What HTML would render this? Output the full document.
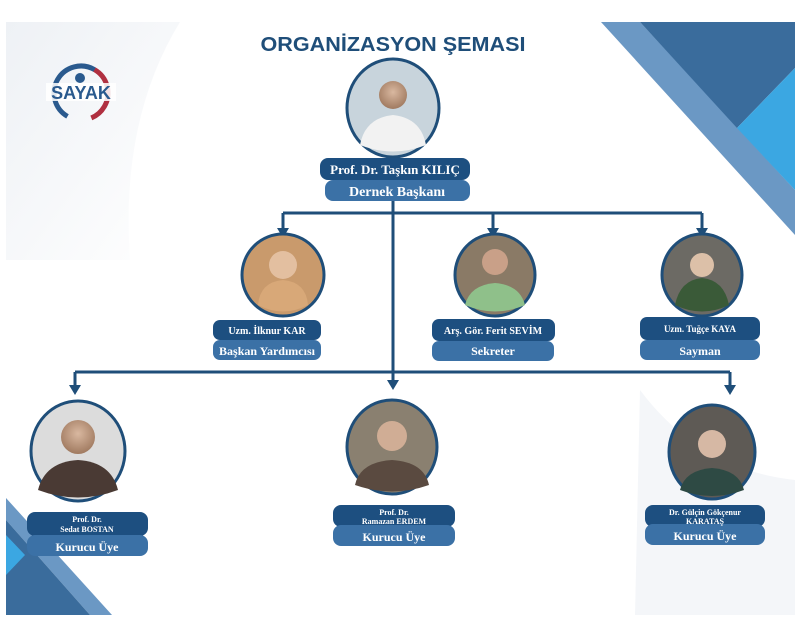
<!DOCTYPE html>
<html><head><meta charset="utf-8"><style>
html,body{margin:0;padding:0;background:#fff;}
svg{display:block}
text{font-family:"Liberation Serif",serif;font-weight:bold;fill:#fff;text-anchor:middle}
</style></head><body>
<svg width="800" height="630" viewBox="0 0 800 630" xmlns="http://www.w3.org/2000/svg">
<defs>
<linearGradient id="wave" x1="0" y1="0" x2="1" y2="1"><stop offset="0" stop-color="#eef1f5"/><stop offset="1" stop-color="#ffffff"/></linearGradient>
<radialGradient id="skin" cx="0.5" cy="0.4" r="0.6"><stop offset="0" stop-color="#d9b8a0"/><stop offset="1" stop-color="#a07a60"/></radialGradient>
</defs>
<rect width="800" height="630" fill="#fff"/>
<!-- left wave area -->
<path d="M6,22 L180,22 Q120,120 130,260 L6,260 Z" fill="url(#wave)"/>
<path d="M640,390 Q700,470 795,480 L795,615 L635,615 Z" fill="#f4f6f9"/>
<!-- top-right decoration -->
<polygon points="601,22 640,22 795,190 795,235" fill="#6b98c4"/>
<polygon points="640,22 795,22 795,68 737,128" fill="#3a6c9c"/>
<polygon points="737,128 795,68 795,190" fill="#3ba7e2"/>
<!-- bottom-left decoration -->
<polygon points="6,498 6,520 90,615 112,615" fill="#6b98c4"/>
<polygon points="6,520 6,615 90,615" fill="#3a6c9c"/>
<polygon points="6,535 6,575 25,555" fill="#3ba7e2"/>
<!-- logo -->
<circle cx="81" cy="93" r="27" fill="none" stroke="#2a5a8e" stroke-width="5" stroke-dasharray="85 85" transform="rotate(120 81 93)"/>
<circle cx="81" cy="93" r="27" fill="none" stroke="#b03040" stroke-width="5" stroke-dasharray="60 110" transform="rotate(-60 81 93)"/>
<circle cx="80" cy="78" r="5" fill="#2a5a8e"/>
<rect x="46" y="83" width="70" height="18" fill="#fff" opacity="0.85"/>
<text x="81" y="99" style="font-family:'Liberation Sans',sans-serif;font-size:18px;fill:#2a5a8e">SAYAK</text>
<!-- title -->
<text x="393" y="51" style="font-family:'Liberation Sans',sans-serif;font-size:20px;fill:#1f4e79" textLength="265" lengthAdjust="spacingAndGlyphs">ORGANİZASYON ŞEMASI</text>
<!-- connectors -->
<g stroke="#1f4e79" stroke-width="3" fill="none">
<line x1="393" y1="200" x2="393" y2="380"/>
<line x1="283" y1="213" x2="702" y2="213"/>
<line x1="283" y1="213" x2="283" y2="232"/>
<line x1="493" y1="213" x2="493" y2="232"/>
<line x1="702" y1="213" x2="702" y2="232"/>
<line x1="75" y1="372" x2="730" y2="372"/>
<line x1="75" y1="372" x2="75" y2="390"/>
<line x1="730" y1="372" x2="730" y2="390"/>
</g>
<g fill="#1f4e79">
<polygon points="277,228 289,228 283,238"/>
<polygon points="487,228 499,228 493,238"/>
<polygon points="696,228 708,228 702,238"/>
<polygon points="69,385 81,385 75,395"/>
<polygon points="387,380 399,380 393,390"/>
<polygon points="724,385 736,385 730,395"/>
</g>
<!-- photos -->
<g stroke="#1f4e79" stroke-width="3">
<ellipse cx="393" cy="108" rx="46" ry="49" fill="#c8d4dc"/>
<ellipse cx="283" cy="275" rx="41" ry="41" fill="#c99a6c"/>
<ellipse cx="495" cy="275" rx="40" ry="41" fill="#8a7a66"/>
<ellipse cx="702" cy="275" rx="40" ry="41" fill="#6c6a64"/>
<ellipse cx="78" cy="451" rx="47" ry="50" fill="#dcdcdc"/>
<ellipse cx="392" cy="447" rx="45" ry="47" fill="#8a8070"/>
<ellipse cx="712" cy="452" rx="43" ry="47" fill="#5e5a55"/>
</g>
<!-- simple figures -->
<path d="M360,145 Q365,118 393,115 Q421,118 426,145 Q393,158 360,145Z" fill="#f2f2f2"/>
<circle cx="393" cy="95" r="14" fill="url(#skin)"/>
<path d="M258,305 Q260,282 283,280 Q306,282 308,305 Q283,318 258,305Z" fill="#d8a878"/>
<circle cx="283" cy="265" r="14" fill="#e3bfa0"/>
<path d="M465,305 Q470,285 495,283 Q520,285 525,305 Q495,318 465,305Z" fill="#8fc08a"/>
<circle cx="495" cy="262" r="13" fill="#c9a088"/>
<path d="M675,305 Q680,280 702,278 Q724,280 729,305 Q702,318 675,305Z" fill="#3a5a38"/>
<circle cx="702" cy="265" r="12" fill="#dcc0a8"/>
<path d="M38,490 Q45,462 78,460 Q111,462 118,490 Q78,505 38,490Z" fill="#4a3a34"/>
<circle cx="78" cy="437" r="17" fill="url(#skin)"/>
<path d="M355,485 Q360,462 392,460 Q424,462 429,485 Q392,498 355,485Z" fill="#5a4a40"/>
<circle cx="392" cy="436" r="15" fill="#d0ad95"/>
<path d="M680,490 Q685,470 712,468 Q739,470 744,490 Q712,502 680,490Z" fill="#2e4a44"/>
<circle cx="712" cy="444" r="14" fill="#d6b8a4"/>
<!-- pills -->
<g>
<rect x="320" y="158" width="150" height="22" rx="8" fill="#1d4f80"/>
<rect x="325" y="180" width="145" height="21" rx="8" fill="#3b71a6"/>
<text x="395" y="174" font-size="13">Prof. Dr. Taşkın KILIÇ</text>
<text x="397" y="196" font-size="14">Dernek Başkanı</text>

<rect x="213" y="320" width="108" height="20" rx="7" fill="#1d4f80"/>
<rect x="213" y="340" width="108" height="20" rx="7" fill="#3b71a6"/>
<text x="267" y="334" font-size="10">Uzm. İlknur KAR</text>
<text x="267" y="355" font-size="12">Başkan Yardımcısı</text>

<rect x="432" y="319" width="123" height="22" rx="7" fill="#1d4f80"/>
<rect x="432" y="341" width="122" height="20" rx="7" fill="#3b71a6"/>
<text x="493" y="334" font-size="10">Arş. Gör. Ferit SEVİM</text>
<text x="493" y="355" font-size="12">Sekreter</text>

<rect x="640" y="317" width="120" height="23" rx="7" fill="#1d4f80"/>
<rect x="640" y="340" width="120" height="20" rx="7" fill="#3b71a6"/>
<text x="700" y="332" font-size="9">Uzm. Tuğçe KAYA</text>
<text x="700" y="355" font-size="12">Sayman</text>

<rect x="27" y="512" width="121" height="24" rx="8" fill="#1d4f80"/>
<rect x="27" y="535" width="121" height="21" rx="8" fill="#3b71a6"/>
<text x="87" y="522" font-size="8">Prof. Dr.</text>
<text x="87" y="532" font-size="8">Sedat BOSTAN</text>
<text x="87" y="551" font-size="12">Kurucu Üye</text>

<rect x="333" y="505" width="122" height="22" rx="8" fill="#1d4f80"/>
<rect x="333" y="525" width="122" height="21" rx="8" fill="#3b71a6"/>
<text x="394" y="515" font-size="8">Prof. Dr.</text>
<text x="394" y="524" font-size="8">Ramazan ERDEM</text>
<text x="394" y="541" font-size="12">Kurucu Üye</text>

<rect x="645" y="505" width="120" height="22" rx="8" fill="#1d4f80"/>
<rect x="645" y="524" width="120" height="21" rx="8" fill="#3b71a6"/>
<text x="705" y="515" font-size="8">Dr. Gülçin Gökçenur</text>
<text x="705" y="524" font-size="8">KARATAŞ</text>
<text x="705" y="540" font-size="12">Kurucu Üye</text>
</g>
</svg>
</body></html>
